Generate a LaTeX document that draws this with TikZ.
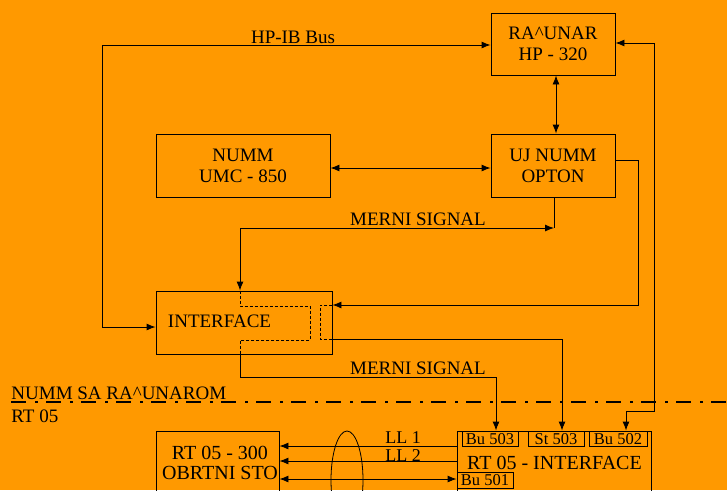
\documentclass[tikz,border=0pt]{standalone}
\usepackage{fontspec}
\setmainfont{Liberation Serif}
\usetikzlibrary{arrows.meta}
\definecolor{bgorange}{RGB}{255,153,0}
\begin{document}
\begin{tikzpicture}[x=1pt,y=-1pt,
  line width=0.9pt,
  >={Latex[length=9pt,width=7pt]},
  box/.style={draw,inner sep=0pt,align=center,font=\fontsize{19}{21}\selectfont},
  lbl/.style={inner sep=0pt,font=\fontsize{19}{21}\selectfont},
  small/.style={draw,inner sep=0pt,minimum height=15pt,text height=11pt,text depth=0pt,font=\fontsize{16.5}{18}\selectfont},
  inner/.style={dashed,dash pattern=on 3pt off 2pt,line width=0.8pt}]
\fill[bgorange] (0,0) rectangle (727,490);
\useasboundingbox (0,0) rectangle (727,490);
\clip (0,0) rectangle (727,490);

% boxes
\node[box,minimum width=124pt,minimum height=62pt] (ra) at (553,44) {RA\textasciicircum UNAR\\HP - 320};
\node[box,minimum width=124pt,minimum height=63pt] (uj) at (553,165.5) {UJ NUMM\\OPTON};
\node[box,minimum width=174pt,minimum height=63pt] (numm) at (243,165.5) {NUMM\\UMC - 850};
\node[box,minimum width=176pt,minimum height=63pt] (iface) at (244,322.5) {};
\node[lbl] (ifacetxt) at (219.5,321.5) {INTERFACE};
\node[box,minimum width=123pt,minimum height=70pt] (rt300) at (217.5,466) {};
\node[lbl,align=center,font=\fontsize{20}{19.5}\selectfont] (rt300txt) at (220,463) {RT 05 - 300\\OBRTNI STO};
\node[box,minimum width=194pt,minimum height=70pt] (rtif) at (554,466) {};
\node[lbl,font=\fontsize{20}{21}\selectfont] (rtiftxt) at (554.5,462.5) {RT 05 - INTERFACE};
\node[small,minimum width=56pt] (bu503) at (490,438.5) {Bu 503};
\node[small,minimum width=56pt] (st503) at (556,438.5) {St 503};
\node[small,minimum width=58pt] (bu502) at (618,438.5) {Bu 502};
\node[small,minimum width=56pt,minimum height=16pt] (bu501) at (485,480) {Bu 501};

% labels
\node[lbl] (hpib) at (293,37) {HP-IB Bus};
\node[lbl,anchor=base] (ms1) at (418,225) {MERNI SIGNAL};
\node[lbl,anchor=base] (ms2) at (418,374) {MERNI SIGNAL};
\node[lbl,anchor=base,font=\fontsize{18}{18}\selectfont] (ll1) at (403,443.5) {LL 1};
\node[lbl,anchor=base,font=\fontsize{18}{18}\selectfont] (ll2) at (403,461) {LL 2};
\node[lbl,anchor=base west] (numsa) at (11,399) {NUMM SA RA\textasciicircum UNAROM};
\node[lbl,anchor=base west] (rt05) at (11,422) {RT 05};

% separator
\draw[line width=2.5pt,dash pattern=on 15pt off 9pt on 2.5pt off 8.5pt] (11,402) -- (727,402);

% HP-IB bus
\draw[<->] (iface.west |- 0,327) -| (102,45) -- (ra.west |- 0,45);
% RA^UNAR <-> UJ NUMM
\draw[<->] (ra.south -| 556,0) -- (uj.north -| 556,0);
% NUMM <-> UJ NUMM
\draw[<->] (numm.east |- 0,168) -- (uj.west |- 0,168);
% upper MERNI SIGNAL
\coordinate (c1) at (554,228);
\draw (uj.south -| 554,0) -- (c1);
\draw[<->] (iface.north -| 240,0) |- (c1);
\draw[inner] (iface.north -| 240,0) -- (240,306) -- (310,306) -- (310,340) -- (240,340) -- (iface.south -| 240,0);
% lower MERNI SIGNAL
\draw[->] (iface.south -| 240,0) |- (496,377) -- (bu503.north -| 496,0);
% loop from UJ NUMM to interface and St 503
\draw[->] (uj.east |- 0,160) -| (638,305) -- (iface.east |- 0,305);
\draw[inner] (iface.east |- 0,305) -- (320,305) -- (320,339) -- (iface.east |- 0,339);
\draw[->] (iface.east |- 0,339) -| (st503.north -| 562,0);
% RA^UNAR <-> Bu 502
\draw[<->] (ra.east |- 0,43) -| (654,411) -| (bu502.north -| 626,0);
% lower connections
\draw[->] (rtif.west |- 0,446) -- (rt300.east |- 0,446);
\draw[->] (rtif.west |- 0,461) -- (rt300.east |- 0,461);
\draw[<->] (rt300.east |- 0,479) -- (bu501.west |- 0,479);
% cable ellipse
\draw[line width=0.8pt] (347,480) ellipse [x radius=16, y radius=49];
\end{tikzpicture}
\end{document}
